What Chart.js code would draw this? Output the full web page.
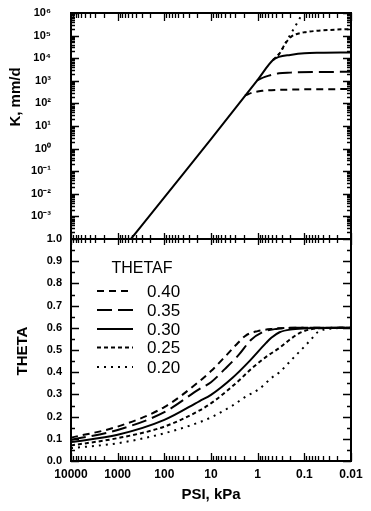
<!DOCTYPE html>
<html><head><meta charset="utf-8">
<script src="https://cdn.jsdelivr.net/npm/chart.js@4/dist/chart.umd.min.js"></script>
<style>
html,body{margin:0;padding:0;background:#fff;}
#wrap{position:relative;width:371px;height:511px;overflow:hidden;background:#fff;}
#c1{position:absolute;left:0;top:0;}
#c2{position:absolute;left:0;top:230px;}
</style></head><body>
<div id="wrap"><canvas id="c1" width="371" height="240"></canvas><canvas id="c2" width="371" height="281"></canvas></div>
<script>
// ---------- tick values / labels ----------
const psiTicks = [10000, 1000, 100, 10, 1, 0.1, 0.01];
const psiTickLabels = ['10000', '1000', '100', '10', '1', '0.1', '0.01'];
const kTicks = [1e-3, 1e-2, 1e-1, 1e0, 1e1, 1e2, 1e3, 1e4, 1e5, 1e6];
const kTickLabels = ['10\u207B\u00B3', '10\u207B\u00B2', '10\u207B\u00B9', '10\u2070', '10\u00B9', '10\u00B2', '10\u00B3', '10\u2074', '10\u2075', '10\u2076'];
const thetaTicks = [0, 0.1, 0.2, 0.3, 0.4, 0.5, 0.6, 0.7, 0.8, 0.9, 1.0];
const thetaTickLabels = ['0.0', '0.1', '0.2', '0.3', '0.4', '0.5', '0.6', '0.7', '0.8', '0.9', '1.0'];

// ---------- series (THETAF) ----------
const seriesNames = ['0.40', '0.35', '0.30', '0.25', '0.20'];

// top panel: K (mm/d) vs PSI (kPa)
const kPsi040 = [1.87, 1.3, 0.8, 0.3, 0.1, 0.01];
const kVal040 = [224, 300, 360, 400, 420, 430];
const kPsi035 = [1.03, 0.7, 0.35, 0.2, 0.05, 0.01];
const kVal035 = [1050, 1500, 2150, 2300, 2450, 2500];
const kPsi030 = [520, 100, 10, 1, 0.47, 0.35, 0.2, 0.1, 0.046, 0.01];
const kVal030 = [1e-4, 0.007, 2.6, 1100, 8300, 11500, 14000, 16500, 17400, 18000];
const kPsi025 = [0.47, 0.342, 0.246, 0.19, 0.15, 0.1, 0.05, 0.02, 0.01];
const kVal025 = [8300, 16000, 50000, 90000, 115000, 140000, 165000, 185000, 195000];
const kPsi020 = [0.47, 0.342, 0.246, 0.178, 0.139, 0.109];
const kVal020 = [8300, 16000, 52000, 166000, 400000, 980000];

// bottom panel: THETA vs PSI (kPa)
const tPsi040 = [10000, 1000, 100, 17.5, 10, 5, 3, 1.8, 1.0, 0.5, 0.2, 0.01];
const tVal040 = [0.105, 0.155, 0.243, 0.36, 0.405, 0.47, 0.52, 0.565, 0.585, 0.595, 0.6, 0.6];
const tPsi035 = [10000, 1000, 100, 17.5, 10, 5, 2.5, 1.4, 0.8, 0.4, 0.15, 0.01];
const tVal035 = [0.095, 0.14, 0.22, 0.325, 0.355, 0.415, 0.48, 0.545, 0.58, 0.595, 0.6, 0.6];
const tPsi030 = [10000, 1000, 100, 17.5, 10, 3.45, 1.5, 0.66, 0.51, 0.34, 0.18, 0.078, 0.01];
const tVal030 = [0.085, 0.118, 0.185, 0.27, 0.298, 0.375, 0.45, 0.532, 0.555, 0.58, 0.593, 0.598, 0.6];
const tPsi025 = [10000, 1000, 100, 17.5, 9.2, 4.6, 2.45, 1.29, 0.65, 0.34, 0.21, 0.13, 0.078, 0.048, 0.01];
const tVal025 = [0.07, 0.103, 0.155, 0.228, 0.265, 0.315, 0.365, 0.42, 0.47, 0.51, 0.545, 0.575, 0.592, 0.598, 0.6];
const tPsi020 = [10000, 1000, 100, 17.5, 9.2, 3.45, 1.8, 0.92, 0.5, 0.34, 0.18, 0.095, 0.07, 0.052, 0.025, 0.01];
const tVal020 = [0.058, 0.08, 0.125, 0.175, 0.2, 0.25, 0.29, 0.325, 0.375, 0.4, 0.46, 0.52, 0.55, 0.58, 0.597, 0.6];

// ---------- styles ----------
const FONT = "'Liberation Sans', Arial, Helvetica, sans-serif";
const dashes = [[7, 5], [15, 6], [], [4, 3], [2, 5]];
Chart.defaults.font.family = FONT;
Chart.defaults.color = '#000';

const pts = (xs, ys) => xs.map((x, i) => ({ x: x, y: ys[i] }));
function mkDs(label, xs, ys, i) {
  return {
    label: label, data: pts(xs, ys), borderColor: '#000', backgroundColor: '#000',
    borderWidth: 2, borderDash: dashes[i], pointRadius: 0, fill: false,
    cubicInterpolationMode: 'monotone'
  };
}
function fixW(w) { return s => { s.width = w; s.paddingTop = 0; s.paddingBottom = 0; s.paddingLeft = 0; s.paddingRight = 0; }; }
function fixH(h) { return s => { s.height = h; s.paddingTop = 0; s.paddingBottom = 0; s.paddingLeft = 0; s.paddingRight = 0; }; }

function tickMarks(chart, o) {
  const { ctx, chartArea: a, scales: { x, y } } = chart;
  ctx.save();
  ctx.strokeStyle = '#000';
  ctx.lineWidth = 1.3;
  ctx.setLineDash([]);
  const xv = [];
  for (let d = -2; d <= 3; d++) for (let m = 1; m <= 9; m++) xv.push([m * Math.pow(10, d), m === 1]);
  xv.push([10000, true]);
  ctx.beginPath();
  for (const [v, maj] of xv) {
    const px = Math.round(x.getPixelForValue(v)) + 0.5;
    const L = maj ? 8 : 5;
    if (o.xTop === 'in') { ctx.moveTo(px, a.top); ctx.lineTo(px, a.top + L); }
    if (o.xTop === 'both') { const h = maj ? 6 : 4; ctx.moveTo(px, a.top - h); ctx.lineTo(px, a.top + h); }
    if (o.xBottom === 'in') { ctx.moveTo(px, a.bottom); ctx.lineTo(px, a.bottom - L); }
  }
  for (const [v, maj] of o.yTicks) {
    const py = Math.round(y.getPixelForValue(v)) + 0.5;
    const L = maj ? 8 : 4;
    ctx.moveTo(a.left, py); ctx.lineTo(a.left + L, py);
    ctx.moveTo(a.right, py); ctx.lineTo(a.right - L, py);
  }
  ctx.stroke();
  ctx.lineWidth = 2;
  ctx.strokeRect(a.left, a.top, a.right - a.left, a.bottom - a.top);
  ctx.restore();
}

function vText(ctx, txt, x, y, font) {
  ctx.save();
  ctx.translate(x, y); ctx.rotate(-Math.PI / 2);
  ctx.font = font; ctx.fillStyle = '#000'; ctx.textAlign = 'center'; ctx.textBaseline = 'middle';
  ctx.fillText(txt, 0, 0);
  ctx.restore();
}

// ---------- top chart ----------
const kYTicks = [];
for (let d = -4; d <= 5; d++) for (let m = 1; m <= 9; m++) kYTicks.push([m * Math.pow(10, d), m === 1]);
kYTicks.push([1e6, true]);

new Chart(document.getElementById('c1'), {
  type: 'line',
  data: {
    datasets: [
      mkDs(seriesNames[0], kPsi040, kVal040, 0),
      mkDs(seriesNames[1], kPsi035, kVal035, 1),
      mkDs(seriesNames[3], kPsi025, kVal025, 3),
      mkDs(seriesNames[4], kPsi020, kVal020, 4),
      mkDs(seriesNames[2], kPsi030, kVal030, 2)
    ]
  },
  options: {
    responsive: false, animation: false,
    layout: { padding: { left: 0, right: 20, top: 13, bottom: 1 } },
    plugins: { legend: { display: false }, tooltip: { enabled: false } },
    scales: {
      x: { type: 'logarithmic', reverse: true, min: 0.01, max: 10000, display: false, afterFit: fixH(0) },
      y: {
        type: 'logarithmic', min: 1e-4, max: 1e6,
        afterFit: fixW(71),
        afterBuildTicks: s => { s.ticks = kTicks.map(v => ({ value: v })); },
        grid: { display: false, drawTicks: false }, border: { display: false },
        ticks: { autoSkip: false, padding: 20, font: { size: 11, weight: 'bold' },
          callback: (v, i) => kTickLabels[i] }
      }
    }
  },
  plugins: [{
    id: 'decoTop',
    afterDraw(chart) {
      tickMarks(chart, { xTop: 'in', xBottom: 'none', yTicks: kYTicks });
      vText(chart.ctx, 'K, mm/d', 16, 97, 'bold 15px ' + FONT);
    }
  }]
});

// ---------- bottom chart ----------
const tYTicks = [];
for (let k = 0; k <= 20; k++) tYTicks.push([k * 0.05, k % 2 === 0]);

new Chart(document.getElementById('c2'), {
  type: 'line',
  data: {
    datasets: [
      mkDs(seriesNames[0], tPsi040, tVal040, 0),
      mkDs(seriesNames[1], tPsi035, tVal035, 1),
      mkDs(seriesNames[2], tPsi030, tVal030, 2),
      mkDs(seriesNames[3], tPsi025, tVal025, 3),
      mkDs(seriesNames[4], tPsi020, tVal020, 4)
    ]
  },
  options: {
    responsive: false, animation: false,
    layout: { padding: { left: 0, right: 20, top: 9, bottom: 0 } },
    plugins: { legend: { display: false }, tooltip: { enabled: false } },
    scales: {
      x: {
        type: 'logarithmic', reverse: true, min: 0.01, max: 10000, position: 'bottom',
        afterFit: fixH(50),
        afterBuildTicks: s => { s.ticks = psiTicks.map(v => ({ value: v })); },
        grid: { display: false, drawTicks: false }, border: { display: false },
        ticks: { autoSkip: false, maxRotation: 0, padding: 6, font: { size: 12, weight: 'bold' },
          callback: (v, i) => psiTickLabels[i] }
      },
      y: {
        type: 'linear', min: 0, max: 1,
        afterFit: fixW(71),
        afterBuildTicks: s => { s.ticks = thetaTicks.map(v => ({ value: v })); },
        grid: { display: false, drawTicks: false }, border: { display: false },
        ticks: { autoSkip: false, padding: 9, font: { size: 11, weight: 'bold' },
          callback: (v, i) => thetaTickLabels[i] }
      }
    }
  },
  plugins: [{
    id: 'decoBottom',
    afterDraw(chart) {
      const ctx = chart.ctx;
      tickMarks(chart, { xTop: 'both', xBottom: 'in', yTicks: tYTicks });
      vText(ctx, 'THETA', 23, 121, 'bold 15px ' + FONT);
      ctx.save();
      ctx.fillStyle = '#000';
      ctx.font = 'bold 15px ' + FONT;
      ctx.textAlign = 'center'; ctx.textBaseline = 'middle';
      ctx.fillText('PSI, kPa', 211, 265);
      // legend
      ctx.font = '16px ' + FONT;
      ctx.fillText('THETAF', 142, 39);
      const rows = [61, 80, 99, 117.5, 137];
      ctx.textAlign = 'left';
      ctx.font = '17px ' + FONT;
      seriesNames.forEach((n, i) => {
        ctx.setLineDash(dashes[i]);
        ctx.lineWidth = 2; ctx.strokeStyle = '#000';
        ctx.beginPath(); ctx.moveTo(97, rows[i]); ctx.lineTo(133, rows[i]); ctx.stroke();
        ctx.fillText(n, 147, rows[i] + 1);
      });
      ctx.restore();
    }
  }]
});
</script>
</body></html>
